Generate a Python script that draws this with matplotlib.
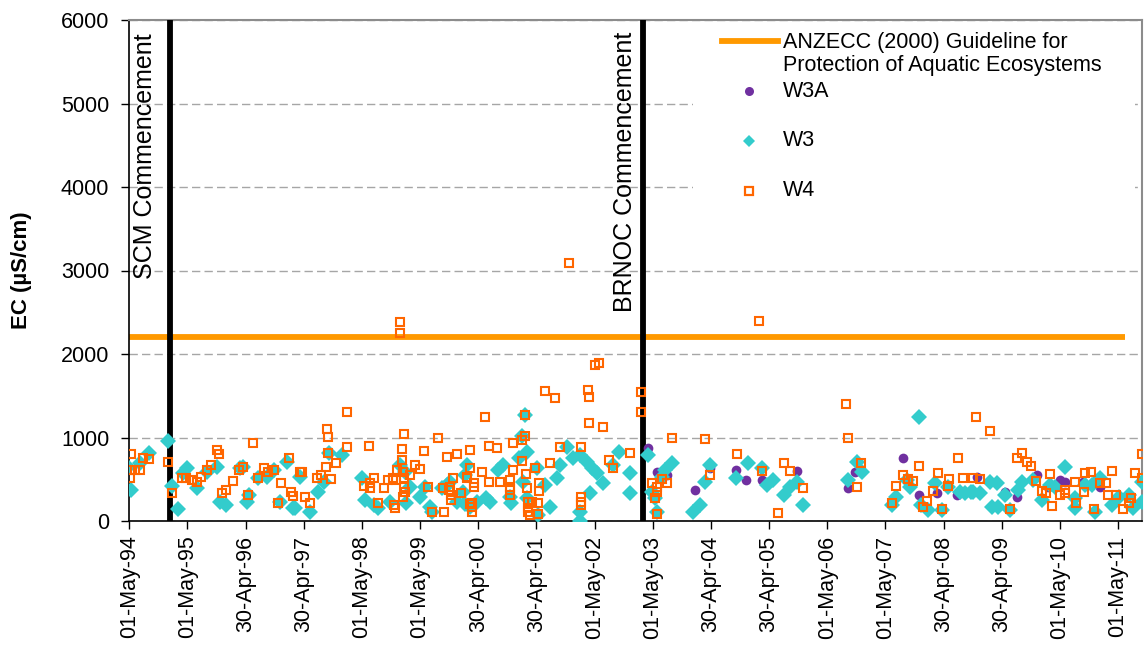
import numpy as np
import pandas as pd
import matplotlib
matplotlib.use("Agg")
import matplotlib.pyplot as plt
import matplotlib.dates as mdates
from matplotlib.lines import Line2D
from matplotlib.patches import Rectangle

plt.rcParams['font.family'] = ['Liberation Sans', 'DejaVu Sans']

# sampling times in decimal years, EC in uS/cm
w3a_t = [2003.25, 2003.40, 2003.57, 2004.06, 2004.31, 2004.77, 2004.94, 2005.20, 2005.80,
         2006.69, 2006.81, 2007.64, 2007.90, 2008.21, 2008.56, 2008.90, 2009.39, 2009.59,
         2009.93, 2010.13, 2010.33, 2010.42, 2010.73, 2011.02]
w3a_v = [880, 592, 552, 372, 632, 612, 492, 492, 600,
         392, 592, 760, 312, 332, 312, 532, 352, 292,
         552, 412, 492, 472, 472, 412]

w3_t = [1994.31, 1994.35, 1994.51, 1994.66, 1995.00, 1995.07, 1995.17, 1995.26, 1995.32, 1995.49,
        1995.66, 1995.83, 1995.89, 1996.00, 1996.23, 1996.29, 1996.35, 1996.38, 1996.55, 1996.69,
        1996.81, 1996.92, 1997.04, 1997.15, 1997.18, 1997.26, 1997.44, 1997.58, 1997.67, 1997.77,
        1997.98, 1998.33, 1998.38, 1998.53, 1998.61, 1998.81, 1998.98, 1999.07, 1999.09, 1999.16,
        1999.33, 1999.41, 1999.50, 1999.53, 1999.70, 1999.79, 1999.84, 1999.96, 2000.06, 2000.10,
        2000.10, 2000.13, 2000.19, 2000.30, 2000.47, 2000.53, 2000.67, 2000.76, 2000.88, 2000.90,
        2001.02, 2001.08, 2001.10, 2001.13, 2001.16, 2001.16, 2001.33, 2001.36, 2001.48, 2001.56,
        2001.68, 2001.74, 2001.85, 2001.96, 2002.08, 2002.08, 2002.08, 2002.19, 2002.25, 2002.28,
        2002.37, 2002.48, 2002.65, 2002.74, 2002.94, 2002.94, 2003.25, 2003.31, 2003.37, 2003.40,
        2003.48, 2003.54, 2003.66, 2004.03, 2004.14, 2004.23, 2004.31, 2004.77, 2004.97, 2005.20,
        2005.29, 2005.40, 2005.58, 2005.69, 2005.80, 2005.92, 2006.69, 2006.84, 2006.92, 2007.44,
        2007.52, 2007.70, 2007.75, 2007.90, 2007.95, 2008.07, 2008.18, 2008.30, 2008.41, 2008.61,
        2008.70, 2008.81, 2008.84, 2008.96, 2009.13, 2009.16, 2009.24, 2009.27, 2009.39, 2009.47,
        2009.61, 2009.67, 2009.87, 2010.02, 2010.16, 2010.25, 2010.42, 2010.59, 2010.59, 2010.76,
        2010.88, 2010.93, 2011.02, 2011.22, 2011.34, 2011.51, 2011.59, 2011.74, 2011.74]
w3_v = [650, 372, 700, 812, 960, 420, 144, 572, 632, 392,
        592, 652, 232, 192, 632, 652, 232, 312, 512, 532,
        612, 232, 712, 152, 152, 532, 112, 352, 472, 812,
        792, 512, 252, 192, 152, 232, 672, 592, 212, 412,
        292, 412, 172, 112, 392, 432, 472, 232, 352, 200,
        552, 672, 172, 232, 272, 232, 612, 672, 292, 212,
        752, 1012, 472, 1272, 832, 272, 632, 72, 432, 172,
        512, 672, 892, 752, 792, 112, 0, 712, 332, 632,
        572, 452, 672, 832, 572, 332, 792, 352, 272, 112,
        532, 612, 692, 112, 192, 472, 672, 512, 692, 632,
        432, 492, 312, 412, 472, 192, 492, 712, 592, 192,
        292, 492, 412, 1244, 192, 132, 452, 132, 412, 352,
        332, 352, 352, 332, 472, 172, 452, 172, 312, 132,
        372, 472, 492, 252, 432, 412, 652, 272, 152, 432,
        432, 112, 512, 192, 292, 312, 152, 232, 472]

w4_t = [1994.34, 1994.34, 1994.35, 1994.43, 1994.51, 1994.57, 1994.66, 1995.00, 1995.07, 1995.23,
        1995.31, 1995.40, 1995.49, 1995.57, 1995.66, 1995.74, 1995.83, 1995.88, 1995.92, 1996.00,
        1996.12, 1996.21, 1996.29, 1996.37, 1996.45, 1996.55, 1996.64, 1996.72, 1996.81, 1996.89,
        1996.93, 1997.07, 1997.11, 1997.15, 1997.26, 1997.29, 1997.35, 1997.44, 1997.55, 1997.62,
        1997.71, 1997.72, 1997.75, 1997.75, 1997.80, 1997.88, 1998.07, 1998.07, 1998.37, 1998.45,
        1998.47, 1998.47, 1998.53, 1998.61, 1998.70, 1998.78, 1998.87, 1998.88, 1998.90, 1998.92,
        1998.93, 1998.98, 1998.99, 1999.01, 1999.02, 1999.04, 1999.04, 1999.05, 1999.05, 1999.06,
        1999.07, 1999.16, 1999.24, 1999.32, 1999.40, 1999.47, 1999.53, 1999.64, 1999.73, 1999.74,
        1999.79, 1999.82, 1999.84, 1999.86, 1999.86, 1999.89, 1999.96, 2000.04, 2000.13, 2000.14,
        2000.18, 2000.18, 2000.18, 2000.22, 2000.22, 2000.22, 2000.25, 2000.25, 2000.39, 2000.45,
        2000.52, 2000.52, 2000.66, 2000.70, 2000.88, 2000.88, 2000.88, 2000.88, 2000.92, 2000.93,
        2001.08, 2001.08, 2001.13, 2001.14, 2001.15, 2001.16, 2001.19, 2001.19, 2001.19, 2001.22,
        2001.25, 2001.30, 2001.36, 2001.36, 2001.37, 2001.37, 2001.48, 2001.57, 2001.65, 2001.74,
        2001.88, 2002.09, 2002.09, 2002.09, 2002.10, 2002.21, 2002.24, 2002.24, 2002.33, 2002.41,
        2002.48, 2002.58, 2002.65, 2002.94, 2003.13, 2003.13, 2003.31, 2003.37, 2003.40, 2003.40,
        2003.40, 2003.48, 2003.57, 2003.66, 2004.23, 2004.31, 2004.78, 2005.15, 2005.20, 2005.49,
        2005.58, 2005.68, 2005.91, 2006.66, 2006.69, 2006.84, 2006.91, 2007.44, 2007.52, 2007.64,
        2007.72, 2007.81, 2007.90, 2007.97, 2008.04, 2008.15, 2008.23, 2008.31, 2008.41, 2008.43,
        2008.58, 2008.66, 2008.83, 2008.88, 2008.96, 2009.12, 2009.47, 2009.59, 2009.67, 2009.76,
        2009.83, 2009.92, 2010.02, 2010.09, 2010.16, 2010.20, 2010.33, 2010.42, 2010.42, 2010.59,
        2010.60, 2010.75, 2010.76, 2010.86, 2010.92, 2011.02, 2011.13, 2011.15, 2011.22, 2011.29,
        2011.42, 2011.51, 2011.55, 2011.63, 2011.74, 2011.74]
w4_v = [612, 512, 804, 612, 612, 752, 740, 712, 332, 512,
        512, 492, 472, 532, 612, 672, 852, 800, 340, 372,
        480, 612, 652, 312, 932, 520, 632, 584, 612, 212,
        460, 752, 344, 304, 584, 592, 292, 212, 512, 552,
        652, 1104, 1004, 812, 504, 692, 1300, 892, 420, 900,
        452, 392, 512, 220, 400, 492, 512, 192, 160, 492,
        612, 2387, 2255, 732, 864, 592, 292, 1044, 412, 512,
        352, 552, 672, 620, 840, 412, 112, 992, 392, 112,
        772, 372, 412, 312, 252, 520, 800, 332, 512, 532,
        852, 632, 200, 212, 164, 112, 452, 404, 584, 1244,
        904, 472, 872, 472, 492, 412, 372, 312, 932, 612,
        724, 972, 1012, 1272, 560, 392, 232, 160, 112, 72,
        232, 632, 212, 80, 460, 360, 1552, 692, 1472, 884,
        3093, 292, 232, 192, 892, 1572, 1480, 1172, 1872, 1892,
        1128, 732, 632, 820, 1540, 1300, 460, 272, 412, 352,
        80, 504, 460, 1000, 980, 552, 800, 2399, 600, 92,
        700, 600, 400, 1400, 1000, 404, 700, 212, 420, 552,
        504, 480, 660, 172, 244, 360, 580, 144, 420, 504,
        760, 512, 520, 1244, 500, 1080, 144, 752, 812, 704,
        664, 480, 360, 332, 560, 184, 312, 372, 332, 472,
        220, 352, 572, 584, 140, 452, 452, 312, 600, 312,
        140, 212, 272, 572, 800, 520]

guideline_dates = ['1994-05-01', '2011-06-15']
guideline_v = [2200, 2200]
scm_date = '1995-01-13'
brnoc_date = '2003-02-27'

tick_labels = ['01-May-94', '01-May-95', '30-Apr-96', '30-Apr-97', '01-May-98', '01-May-99',
               '30-Apr-00', '30-Apr-01', '01-May-02', '01-May-03', '30-Apr-04', '30-Apr-05',
               '01-May-06', '01-May-07', '30-Apr-08', '30-Apr-09', '01-May-10', '01-May-11']


def to_num(years):
    # decimal year -> matplotlib date number
    out = []
    for v in years:
        y = int(v)
        d = pd.Timestamp(year=y, month=1, day=1) + pd.Timedelta(days=(v - y) * 365.25)
        out.append(mdates.date2num(d.to_pydatetime()))
    return np.array(out)


start = mdates.date2num(pd.Timestamp('1994-05-01').to_pydatetime())

fig = plt.figure(figsize=(11.45, 6.45), dpi=100)
ax = fig.add_axes([129.3 / 1145, 1 - 521 / 645, 1012.2 / 1145, 501 / 645])

# gridlines behind everything
ax.set_axisbelow(True)
ax.yaxis.grid(True, color='#A6A6A6', linestyle=(0, (6, 3)), linewidth=1)

# guideline and the two commencement markers
g = [mdates.date2num(pd.Timestamp(d).to_pydatetime()) for d in guideline_dates]
ax.plot(g, guideline_v, color='#FF9900', lw=4.2, solid_capstyle='butt', zorder=2)
for d in [scm_date, brnoc_date]:
    ax.axvline(mdates.date2num(pd.Timestamp(d).to_pydatetime()), color='black', lw=4.2, zorder=3)

# monitoring sites
ax.plot(to_num(w3a_t), w3a_v, 'o', color='#7030A0', ms=7, mew=0, zorder=4)
ax.plot(to_num(w3_t), w3_v, 'D', color='#33CCCC', ms=8.5, mew=0, zorder=5)
ax.plot(to_num(w4_t), w4_v, 's', mfc='none', mec='#FF6600', ms=5.5, mew=1.5, zorder=6)

ax.text(0.0155, 0.974, 'SCM Commencement', transform=ax.transAxes, rotation=90,
        ha='center', va='top', fontsize=18)
ax.text(0.4898, 0.976, 'BRNOC Commencement', transform=ax.transAxes, rotation=90,
        ha='center', va='top', fontsize=18)

# axes
ax.set_ylim(0, 6000)
ax.set_yticks(np.arange(0, 6001, 1000))
ax.set_xlim(start, start + 17.404 * 365.25)
ax.set_xticks(start + np.arange(len(tick_labels)) * 365.25)
ax.set_xticklabels(tick_labels, rotation=90, fontsize=15.5)
ax.tick_params(axis='x', direction='out', length=5.5, width=1, pad=5)
ax.tick_params(axis='y', direction='out', length=5.5, width=1, pad=9, labelsize=15.5)
ax.set_ylabel('EC (µS/cm)', fontsize=16, fontweight='bold')
ax.yaxis.set_label_coords(-0.096, 0.5)

for s in ['left', 'bottom']:
    ax.spines[s].set_color('black')
    ax.spines[s].set_linewidth(1.2)
for s in ['top', 'right']:
    ax.spines[s].set_color('#8C8C8C')
    ax.spines[s].set_linewidth(1.5)

# legend panel
ax.add_patch(Rectangle((0.557, 0.625), 0.437, 0.372, transform=ax.transAxes,
                       facecolor='white', edgecolor='none', zorder=7))
ax.add_line(Line2D([0.5857, 0.641], [0.958, 0.958], transform=ax.transAxes,
                   color='#FF9900', lw=4.2, zorder=8))
ax.text(0.646, 0.932, 'ANZECC (2000) Guideline for\nProtection of Aquatic Ecosystems',
        transform=ax.transAxes, ha='left', va='center', fontsize=15.5, linespacing=1.12, zorder=8)
legend_rows = [('W3A', 'o', dict(color='#7030A0', ms=6.5, mew=0), 0.858),
               ('W3', 'D', dict(color='#33CCCC', ms=6, mew=0), 0.7585),
               ('W4', 's', dict(mfc='none', mec='#FF6600', ms=5.5, mew=1.6), 0.6587)]
for name, mk, kw, yy in legend_rows:
    ax.add_line(Line2D([0.6123], [yy], transform=ax.transAxes, marker=mk, ls='none',
                       zorder=8, **kw))
    ax.text(0.646, yy, name, transform=ax.transAxes, ha='left', va='center',
            fontsize=15.5, zorder=8)

fig.savefig('out.png', dpi=100)
